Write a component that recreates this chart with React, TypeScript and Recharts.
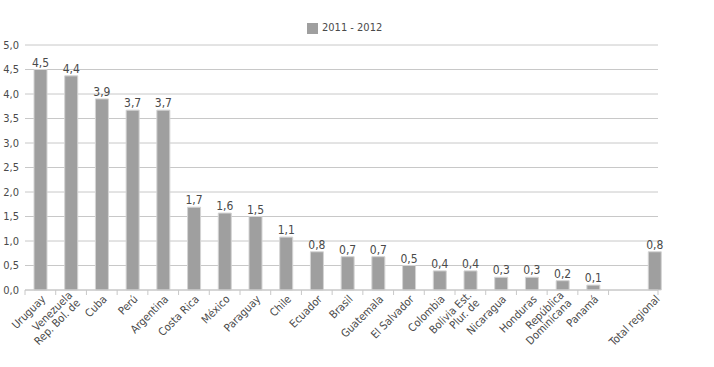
import React from "react";
import { BarChart, Bar, XAxis, YAxis, CartesianGrid, Legend, LabelList } from "recharts";

// categories in chart order; the empty one is the gap before the regional total
const categories = [
  "Uruguay", "Venezuela\nRep. Bol. de", "Cuba", "Perú", "Argentina", "Costa Rica",
  "México", "Paraguay", "Chile", "Ecuador", "Brasil", "Guatemala", "El Salvador",
  "Colombia", "Bolivia Est.\nPlur. de", "Nicaragua", "Honduras",
  "República\nDominicana", "Panamá", "", "Total regional",
];
const values2011_2012 = [
  4.5, 4.37, 3.9, 3.67, 3.67, 1.69, 1.57, 1.5, 1.08, 0.78, 0.68, 0.68, 0.5,
  0.39, 0.39, 0.26, 0.26, 0.19, 0.1, null, 0.78,
];
const yTicks = [0, 0.5, 1, 1.5, 2, 2.5, 3, 3.5, 4, 4.5, 5];
const seriesName = "2011 - 2012";

const data = categories.map((name, i) => ({ name, value: values2011_2012[i] }));

const FONT = "'DejaVu Sans Condensed', 'Liberation Sans Narrow', 'DejaVu Sans', sans-serif";
const TEXT = "#4a4a4a";
const GRID = "#c8c8c8";
const BAR = "#9f9f9f";

const W = 714;
const H = 367;
const LEFT = 25;
const RIGHT = 658;
const TOP = 45;
const BOTTOM = 290;
const OVERHANG = 12; // category band runs a little past the grid's right end
const STEP = (RIGHT - LEFT + OVERHANG) / categories.length;

const fmt = (v: number) => v.toFixed(1).replace(".", ",");
const textStyle = { fontSize: 11, fontFamily: FONT, fontStretch: "condensed", fill: TEXT } as const;

function CategoryTick(props: any) {
  const { x, payload, index } = props;
  const name: string = payload.value || "";
  const lines = name ? name.split("\n") : [];
  const isTotal = index === categories.length - 1;
  const tickX = isTotal ? RIGHT : x - STEP / 2;
  const ax = x + 3;
  const ay = BOTTOM + 7;
  return (
    <g>
      <line x1={tickX} x2={tickX} y1={BOTTOM} y2={BOTTOM + 5} stroke={GRID} />
      {lines.length > 0 && (
        <text transform={`rotate(-45 ${ax} ${ay})`} textAnchor="end" style={textStyle}>
          {lines.map((l, i) => (
            <tspan key={i} x={ax} y={ay} dy={(i - (lines.length - 1) / 2) * 11 + 4}>
              {l}
            </tspan>
          ))}
        </text>
      )}
    </g>
  );
}

export default function App() {
  return (
    <div style={{ width: W, height: H, background: "#fff" }}>
      <style>{"body{margin:0}"}</style>
      <BarChart
        width={W}
        height={H}
        data={data}
        margin={{ top: TOP - 22, right: W - RIGHT, bottom: 0, left: 0 }}
        barSize={13}
      >
        <Legend
          verticalAlign="top"
          align="left"
          height={22}
          iconType="square"
          iconSize={11}
          wrapperStyle={{ top: 21, left: 307, width: "auto", fontFamily: FONT, fontStretch: "condensed", fontSize: 11 }}
          formatter={(v: string) => <span style={{ color: TEXT }}>{v}</span>}
        />
        <CartesianGrid vertical={false} stroke={GRID} />
        <XAxis
          dataKey="name"
          interval={0}
          padding={{ left: 0, right: -OVERHANG }}
          axisLine={{ stroke: GRID }}
          tickLine={false}
          tick={<CategoryTick />}
          height={H - BOTTOM}
        />
        <YAxis
          width={LEFT}
          domain={[0, 5]}
          ticks={yTicks}
          interval={0}
          tickFormatter={fmt}
          axisLine={false}
          tickLine={false}
          tickSize={4}
          tickMargin={2}
          tick={textStyle}
        />
        <Bar dataKey="value" name={seriesName} fill={BAR} stroke="#d4d4d4" strokeWidth={1} isAnimationActive={false}>
          <LabelList
            dataKey="value"
            position="top"
            offset={3}
            formatter={(v: any) => (v == null ? "" : fmt(v))}
            style={{ ...textStyle, fontSize: 12 }}
          />
        </Bar>
      </BarChart>
    </div>
  );
}
